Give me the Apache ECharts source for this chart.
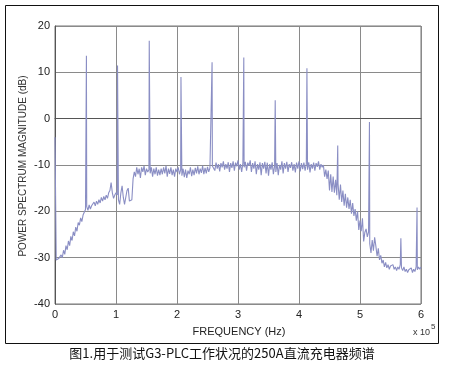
<!DOCTYPE html>
<html>
<head>
<meta charset="utf-8">
<script src="https://cdn.jsdelivr.net/npm/echarts@6/dist/echarts.min.js"></script>
<style>
html,body{margin:0;padding:0;background:#fff;}
#chart{width:449px;height:369px;}
</style>
</head>
<body>
<div id="chart"></div>
<script>
// Frequency axis in units of 10^5 Hz
const xTicks = [0, 1, 2, 3, 4, 5, 6];
const yTicks = [-40, -30, -20, -10, 0, 10, 20];
// Noise floor, sampled every 0.02 (x10^5 Hz) from 0 to 6
const floorStep = 0.02;
const floorDb = [
  -4, -30.5, -30.8, -30.2, -30.6, -29.4, -30, -28.4, -29.3, -27.4,
  -28.3, -26.4, -27.4, -25.4, -26.3, -24.4, -25.3, -23.4, -24.3, -22.4,
  -23, -21.4, -22.2, -20.8, -20.2, -19.6, -19, -19.8, -18.6, -19.5,
  -18.8, -19.2, -18, -18.8, -17.8, -18.5, -17.5, -18.2, -17, -17.8,
  -16.8, -17.5, -16.5, -17.2, -16, -15.5, -13.8, -16, -17.2, -16.5,
  -16, -16.5, -17.5, -18.5, -16, -14.5, -17, -18.5, -18.2, -15.5,
  -15, -17.8, -18.2, -17.5, -13, -11.5, -12.5, -10.5, -12, -10.8,
  -12.8, -10.5, -11.5, -10.2, -12.2, -10.8, -11.5, -11, -11.8, -10.5,
  -12.5, -10.8, -12, -10.5, -12.3, -11, -12.2, -10.8, -12, -10.5,
  -11.8, -10.2, -12.5, -10.8, -11.9, -10.5, -12.2, -11, -12.5, -10.8,
  -11.5, -10.5, -12, -11, -12.3, -10.8, -12.6, -11, -12.8, -11.2,
  -12, -10.5, -12.4, -11, -12.2, -10.6, -11.8, -10.3, -12, -10.8,
  -11.7, -10.2, -12, -10.6, -11.8, -10.4, -11.5, -10.6, -11, -10.2,
  -9.8, -11.2, -9.5, -10.8, -9.8, -11.4, -9.6, -10.5, -9.2, -11,
  -9.8, -10.8, -9.4, -11.5, -9.6, -10.6, -9.2, -11.2, -9.5, -10.3,
  -9, -11, -9.8, -11.5, -9.6, -10.5, -9.3, -11.2, -9.5, -10.2,
  -9, -11.5, -9.6, -10.8, -9.2, -12, -9.8, -11, -9.4, -12.2,
  -9.6, -10.8, -9.3, -11.8, -9.5, -12.3, -9.8, -11, -9.4, -12,
  -10.2, -11.5, -9.6, -12.2, -10, -11, -9.2, -11.8, -9.6, -10.8,
  -9.3, -11.5, -9.8, -10.6, -9.4, -11.2, -9.8, -11.6, -9.5, -10.8,
  -9.2, -11.4, -9.6, -10.9, -9.5, -11.2, -9.8, -11, -9.4, -11.6,
  -9.8, -10.8, -9.5, -11.2, -9.6, -10.4, -9.2, -11, -9.8, -10.5,
  -10, -12.5, -11, -13, -11.2, -15.5, -12, -15.8, -12.5, -16,
  -13.2, -16.5, -14, -17.5, -14.2, -18, -15.5, -18.8, -16.2, -19.2,
  -17, -19.5, -17.5, -20.5, -18.2, -21, -19.5, -22, -20, -24,
  -22, -24.3, -21.5, -26.5, -24.5, -23.8, -25.5, -24.5, -27, -29,
  -26.2, -28.5, -25.6, -27.5, -29.7, -28, -30.5, -29.5, -31.2, -30.5,
  -32, -31, -32.2, -31.5, -32.5, -31.8, -32.2, -31.5, -32.5, -32,
  -32.8, -32, -32.5, -31.5, -32.2, -32.8, -32, -33, -32.5, -33.2,
  -32.6, -33, -32.2, -33.2, -32.5, -33, -32, -32.6, -32, -32.5,
  -32
];
// Harmonic spikes
const peakFreq = [0.515, 1.025, 1.545, 2.065, 2.575, 3.095, 3.61, 4.13, 4.635, 5.155, 5.67, 5.935];
const peakDb   = [13.6, 11.5, 16.8, 9.0, 12.2, 13.2, 4.0, 10.9, -5.8, -0.7, -25.8, -19.2];

const pts = floorDb.map((v, i) => [+(i * floorStep).toFixed(3), v]);
peakFreq.forEach((f, i) => pts.push([f, peakDb[i]]));
pts.sort((a, b) => a[0] - b[0]);

const chart = echarts.init(document.getElementById('chart'), null, {renderer: 'canvas'});
const font = 'Liberation Sans, Arial, sans-serif';
chart.setOption({
  animation: false,
  backgroundColor: '#fff',
  grid: {left: 55, right: 28, top: 26, bottom: 65, show: true, borderColor: '#777', borderWidth: 1, containLabel: false},
  xAxis: {
    type: 'value', min: xTicks[0], max: xTicks[xTicks.length - 1], interval: 1,
    axisLine: {show: true, lineStyle: {color: '#555'}},
    axisTick: {show: false},
    axisLabel: {color: '#222', fontSize: 11, fontFamily: font, margin: 5},
    splitLine: {show: true, lineStyle: {color: '#8a8a8a', width: 1}}
  },
  yAxis: {
    type: 'value', min: yTicks[0], max: yTicks[yTicks.length - 1], interval: 10,
    axisLine: {show: true, lineStyle: {color: '#555'}},
    axisTick: {show: false},
    axisLabel: {color: '#222', fontSize: 11, fontFamily: font, margin: 5},
    splitLine: {show: true, lineStyle: {color: '#8a8a8a', width: 1}}
  },
  series: [{
    type: 'line', data: pts, showSymbol: false, symbol: 'none',
    lineStyle: {color: '#8a8ec4', width: 1.1}, z: 3
  }],
  graphic: [
    {type: 'rect', shape: {x: 5.5, y: 5.5, width: 433, height: 338}, style: {fill: 'none', stroke: '#111', lineWidth: 1}, z: -1, silent: true},
    {type: 'text', x: 23, y: 166, rotation: Math.PI / 2, style: {text: 'POWER SPECTRUM MAGNITUDE (dB)', fontSize: 10, fontFamily: font, fill: '#333', align: 'center', verticalAlign: 'middle'}},
    {type: 'text', x: 239, y: 332, style: {text: 'FREQUENCY (Hz)', fontSize: 11, fontFamily: font, fill: '#222', align: 'center', verticalAlign: 'middle'}},
    {type: 'text', x: 430, y: 333, style: {text: 'x 10', fontSize: 9, fontFamily: font, fill: '#333', align: 'right', verticalAlign: 'middle'}},
    {type: 'text', x: 431, y: 327, style: {text: '5', fontSize: 8, fontFamily: font, fill: '#333', align: 'left', verticalAlign: 'middle'}},
    {type: 'text', x: 222, y: 353, style: {text: '图1.用于测试G3-PLC工作状况的250A直流充电器频谱', fontSize: 13, fontFamily: 'Noto Sans CJK SC, sans-serif', fill: '#111', align: 'center', verticalAlign: 'middle'}}
  ]
});
</script>
</body>
</html>
